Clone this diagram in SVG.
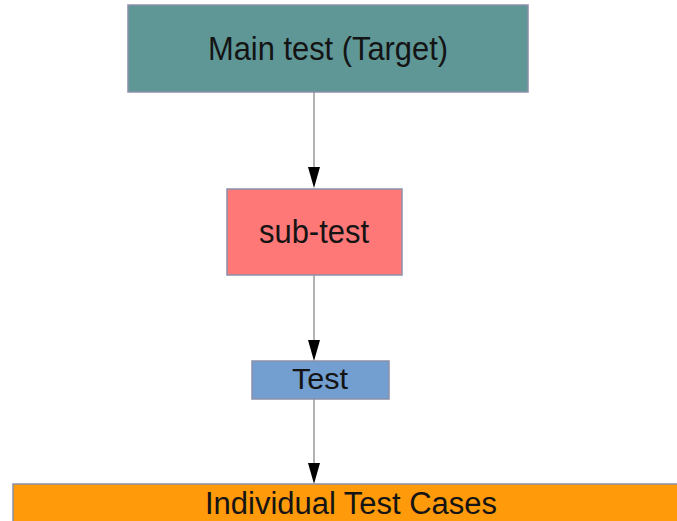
<svg xmlns="http://www.w3.org/2000/svg" width="677" height="521" viewBox="0 0 677 521">
<style>
.box{stroke:#8a90a8;stroke-width:1.5}
.lbl{font-family:"Liberation Sans",Arial,sans-serif;fill:#141414;text-anchor:middle}
.con{stroke:#9a9a9a;stroke-width:1.5;fill:none}
</style>
<defs>
<marker id="ah" markerWidth="12" markerHeight="20" refX="6" refY="20" orient="auto-start-reverse" markerUnits="userSpaceOnUse" viewBox="0 0 12 20">
<path d="M0,0 L12,0 L6,20 Z" transform="rotate(0)" fill="#000"/>
</marker>
</defs>
<rect width="677" height="521" fill="#fff"/>
<g id="connectors">
<line class="con" x1="314" y1="92" x2="314" y2="167"/>
<path d="M308,167 L320,167 L314,188 Z" fill="#000"/>
<line class="con" x1="314" y1="275" x2="314" y2="340"/>
<path d="M308,340 L320,340 L314,361 Z" fill="#000"/>
<line class="con" x1="314" y1="399" x2="314" y2="463"/>
<path d="M308,463 L320,463 L314,484 Z" fill="#000"/>
</g>
<g id="main">
<rect class="box" x="128" y="5" width="400" height="87" fill="#5f9797"/>
<text class="lbl" x="328" y="60" font-size="34" textLength="240" lengthAdjust="spacingAndGlyphs">Main test (Target)</text>
</g>
<g id="subtest">
<rect class="box" x="227" y="189" width="175" height="86" fill="#ff7878"/>
<text class="lbl" x="314" y="243" font-size="34" textLength="110" lengthAdjust="spacingAndGlyphs">sub-test</text>
</g>
<g id="test">
<rect class="box" x="252" y="361" width="137" height="38" fill="#729fcf"/>
<text class="lbl" x="320" y="389" font-size="30" textLength="56" lengthAdjust="spacingAndGlyphs">Test</text>
</g>
<g id="cases">
<rect class="box" x="13" y="484" width="670" height="40" fill="#ff9a0a"/>
<text class="lbl" x="351" y="514" font-size="31" textLength="292" lengthAdjust="spacingAndGlyphs">Individual Test Cases</text>
</g>
</svg>
